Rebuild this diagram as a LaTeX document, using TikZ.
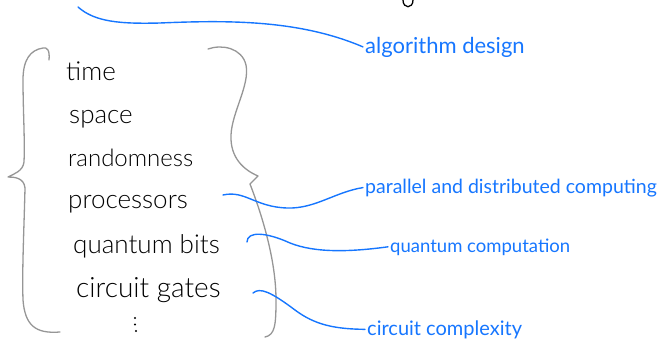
\documentclass[tikz,border=0pt]{standalone}
\usepackage{fontspec}
\newfontfamily\hand{Lato Light}
\newfontfamily\handreg{Lato}
\definecolor{inkblue}{RGB}{22,118,255}
\definecolor{bracegray}{RGB}{150,150,150}
\tikzset{
  item/.style={anchor=base west, inner sep=1pt, text=black, font=\hand\fontsize{26}{30}\selectfont},
  topic/.style={anchor=base west, inner sep=2pt, text=inkblue, font=\handreg\fontsize{20}{24}\selectfont},
  link/.style={draw=inkblue, line width=1.4pt, line cap=round},
  brace/.style={draw=bracegray, line width=1.3pt, line cap=round, line join=round},
}
\begin{document}
\begin{tikzpicture}[x=1pt, y=-1pt]
\useasboundingbox (0,0) rectangle (665,356);

% resources inside the braces
\node[item] (time) at (65,80) {time};
\node[item] (space) at (68,123) {space};
\node[item, font=\hand\fontsize{24}{28}\selectfont] (rand) at (67,166) {randomness};
\node[item] (proc) at (67,208) {processors};
\node[item] (qbits) at (72,253) {quantum bits};
\node[item, font=\hand\fontsize{28}{32}\selectfont] (gates) at (75,297) {circuit gates};
% vertical ellipsis below the list
\fill[black] (135,318) circle (1.1pt) (135,324.5) circle (1.1pt) (136,331) circle (1.1pt);

% areas of study
\node[topic, font=\handreg\fontsize{22}{26}\selectfont] (alg) at (363,53) {algorithm design};
\node[topic, font=\handreg\fontsize{19.5}{23}\selectfont] (par) at (363,193) {parallel and distributed computing};
\node[topic, font=\handreg\fontsize{18.5}{22}\selectfont] (qc) at (388,252) {quantum computation};
\node[topic] (cc) at (365,335) {circuit complexity};

% left brace
\path[brace] (49,60) .. controls (50,50) and (47,47) .. (43,48)
  .. controls (30,50) and (23,60) .. (23,80)
  .. controls (23,110) and (25,140) .. (24,162)
  .. controls (23,171) and (14,174) .. (8,177)
  .. controls (15,177) and (24,178) .. (25,188)
  .. controls (24,230) and (22,270) .. (23,300)
  .. controls (25,325) and (35,334) .. (60,332);

% right brace
\path[brace] (208,49) .. controls (222,44) and (242,48) .. (246,65)
  .. controls (250,85) and (232,112) .. (231,135)
  .. controls (230,158) and (244,170) .. (258,176)
  -- (250,184)
  .. controls (262,215) and (276,260) .. (276,300)
  .. controls (276,325) and (275,335) .. (265,337);

% tail of a letter from the line above
\draw[black, line width=1.3pt, line cap=round] (403,0) .. controls (403,9) and (413,9) .. (413,0);

% connectors to the areas
\coordinate (a0) at (78,7);
\coordinate (p0) at (223,195);
\coordinate (q0) at (247,242);
\coordinate (c0) at (253,293);

\path[link] (a0) .. controls (95,22) and (120,24) .. (160,23)
  .. controls (230,20) and (300,20) .. (alg.west);
\path[link] (p0) .. controls (245,190) and (255,207) .. (287,208)
  .. controls (315,209) and (335,192) .. (par.west);
\path[link] (q0) .. controls (247,231) and (266,232) .. (290,243)
  .. controls (315,253) and (350,252) .. (qc.west);
\path[link] (c0) .. controls (260,287) and (271,292) .. (295,310)
  .. controls (315,325) and (335,329) .. (cc.west);
\end{tikzpicture}
\end{document}
